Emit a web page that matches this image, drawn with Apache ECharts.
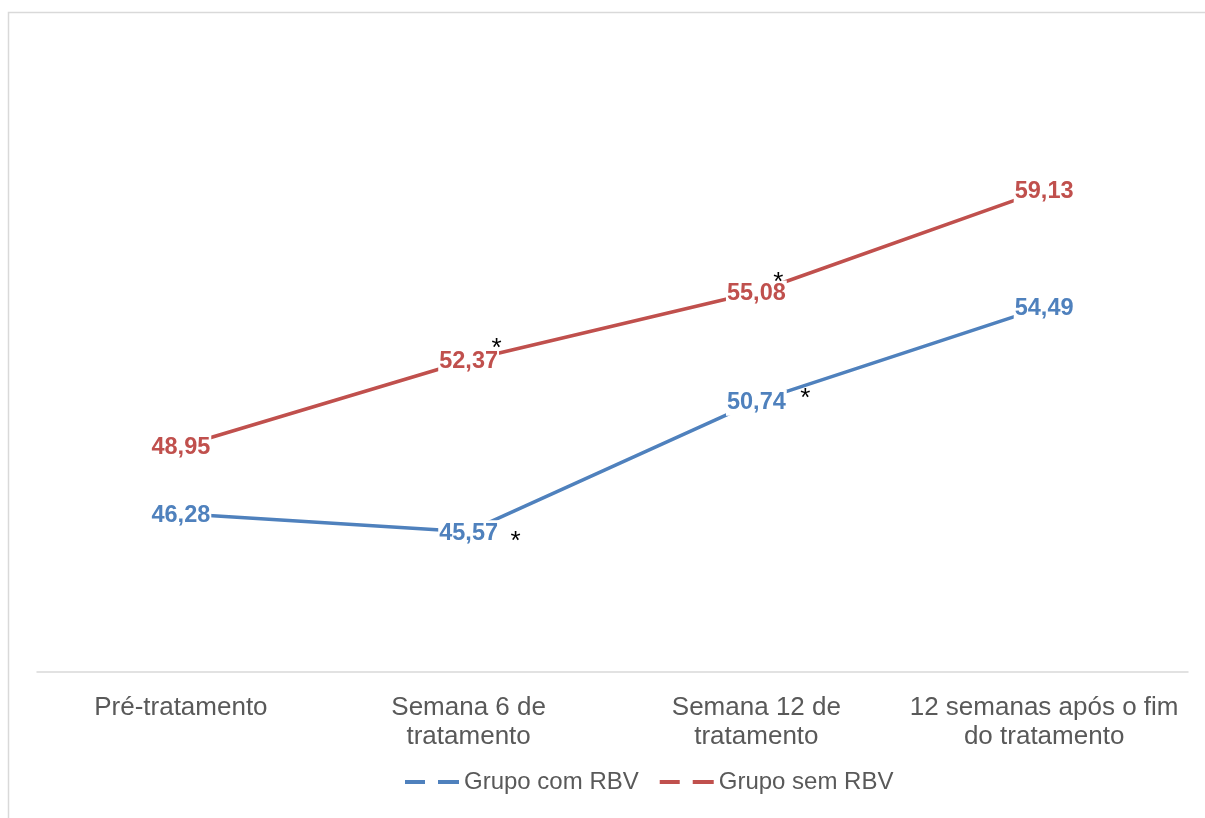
<!DOCTYPE html>
<html>
<head>
<meta charset="utf-8">
<script src="https://cdn.jsdelivr.net/npm/echarts@6/dist/echarts.min.js"></script>
<style>
  html, body { margin: 0; padding: 0; background: #fff; }
  #chart { width: 1205px; height: 818px; }
</style>
</head>
<body>
<div id="chart"></div>
<script>
// Categories along the x axis (tick labels, with line breaks)
const categories = [
  'Pré-tratamento',
  'Semana 6 de\ntratamento',
  'Semana 12 de\ntratamento',
  '12 semanas após o fim\ndo tratamento'
];

// Series names
const seriesNames = ['Grupo com RBV', 'Grupo sem RBV'];

// Mean values per time point
const comRBV = [46.28, 45.57, 50.74, 54.49];
const semRBV = [48.95, 52.37, 55.08, 59.13];

// Points flagged with an asterisk (significant difference)
const starComRBV = [false, true, true, false];
const starSemRBV = [false, true, true, false];

const FONT = "'Liberation Sans', Arial, sans-serif";
const BLUE = '#4F81BD';
const RED = '#C0504D';

// label offsets for the asterisks, per series and point index
const starOffsets = {
  com: { 1: [47, 10.5], 2: [49, -2.5] },
  sem: { 1: [28, -11.5], 2: [22, -9.5] }
};

function starMarks(values, flags, key) {
  const out = [];
  flags.forEach(function (f, i) {
    if (!f) return;
    out.push({
      coord: [i, values[i]],
      label: { offset: starOffsets[key][i] }
    });
  });
  return out;
}

function makeSeries(name, values, color, flags, key) {
  return {
    name: name,
    type: 'line',
    data: values,
    symbol: 'circle',
    symbolSize: 0,
    showSymbol: true,
    lineStyle: { color: color, width: 3.5, cap: 'round' },
    itemStyle: { color: color },
    label: {
      show: true,
      position: 'inside',
      offset: [0, 1.5],
      formatter: function (p) { return p.value.toFixed(2).replace('.', ','); },
      color: color,
      fontFamily: FONT,
      fontWeight: 'bold',
      fontSize: 23.5,
      backgroundColor: '#fff',
      padding: [1, 1]
    },
    markPoint: {
      symbol: 'circle',
      symbolSize: 0,
      silent: true,
      label: {
        show: true,
        formatter: '*',
        position: 'inside',
        color: '#000',
        fontFamily: FONT,
        fontSize: 26
      },
      data: starMarks(values, flags, key)
    }
  };
}

const chart = echarts.init(document.getElementById('chart'), null, { renderer: 'canvas' });

chart.setOption({
  animation: false,
  backgroundColor: '#fff',
  graphic: [{
    type: 'rect',
    silent: true,
    shape: { x: 8.5, y: 12.5, width: 1300, height: 900 },
    style: { fill: 'none', stroke: '#D9D9D9', lineWidth: 1.5 }
  }],
  grid: {
    left: 37, right: 17, top: 42, bottom: 146,
    outerBoundsMode: 'none'
  },
  legend: {
    data: seriesNames,
    left: 405,
    top: 770,
    padding: 0,
    itemWidth: 54,
    itemHeight: 4,
    itemGap: 21,
    icon: 'path://M0,0H20V4H0Z M33,0H54V4H33Z',
    textStyle: { color: '#595959', fontFamily: FONT, fontSize: 24 }
  },
  xAxis: {
    type: 'category',
    data: categories,
    boundaryGap: true,
    axisLine: { lineStyle: { color: '#D9D9D9', width: 1.5 } },
    axisTick: { show: false },
    axisLabel: {
      color: '#595959',
      fontFamily: FONT,
      fontSize: 26,
      lineHeight: 29,
      margin: 21,
      interval: 0
    },
    splitLine: { show: false }
  },
  yAxis: {
    type: 'value',
    min: 40,
    max: 65,
    interval: 5,
    show: false,
    splitLine: { show: false }
  },
  series: [
    makeSeries(seriesNames[0], comRBV, BLUE, starComRBV, 'com'),
    makeSeries(seriesNames[1], semRBV, RED, starSemRBV, 'sem')
  ]
});
</script>
</body>
</html>
